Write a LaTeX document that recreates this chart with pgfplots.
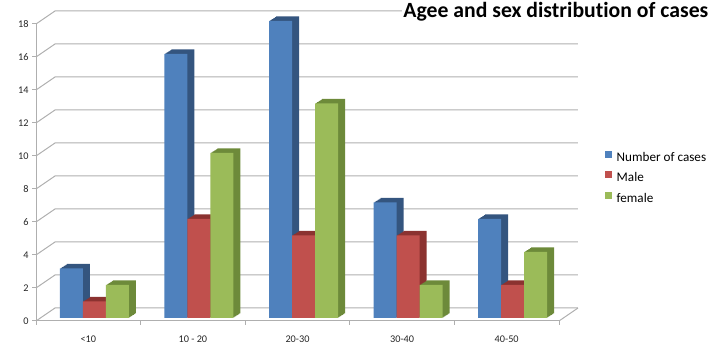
\documentclass[border=0pt]{standalone}
\usepackage{fontspec}
\setmainfont{Carlito}[Ligatures=NoCommon]
\usepackage{pgfplots}
\usepackage{pgfplotstable}
\pgfplotsset{compat=1.18}
\definecolor{cblue}{HTML}{4F81BD}
\definecolor{bdark}{HTML}{34557F}
\definecolor{cred}{HTML}{C0504D}
\definecolor{rdark}{HTML}{8B3230}
\definecolor{cgreen}{HTML}{9BBB59}
\definecolor{gdark}{HTML}{6D8A3A}
\definecolor{gridc}{RGB}{175,175,175}
\pgfplotstableread{
x cases male female
0 3 1 2
1 16 6 10
2 18 5 13
3 7 5 2
4 6 2 4
}\data
\begin{document}
\begin{tikzpicture}
\begin{axis}[
  x=104.6bp, y=16.5bp,
  xmin=-0.5, xmax=4.5, ymin=0, ymax=18,
  clip=false,
  axis x line*=bottom, axis y line*=left,
  axis line style={gridc, line width=1bp},
  xtick={0,...,4},
  xticklabels={{<10},{10 - 20},{20-30},{30-40},{40-50}},
  minor xtick={-0.5,0.5,...,4.5},
  ytick={0,2,...,18},
  tick align=outside,
  major tick length=4bp, minor tick length=4bp,
  tick style={gridc, line width=1bp},
  major x tick style={draw=none},
  /pgf/number format/assume math mode=true,
  ticklabel style={font=\fontsize{10.3}{12}\selectfont, text=black!85},
  xticklabel style={yshift=-7bp},
  legend style={at={(axis cs:4.94,8.68)}, anchor=west, draw=none, fill=none,
    font=\fontsize{13.2}{15}\selectfont, row sep=7.5bp, inner sep=0pt,
    nodes={inner sep=1bp},
    /tikz/every odd column/.append style={column sep=3.5bp}},
  legend cell align=left,
]
% back wall, side wall and floor
\pgfplotsinvokeforeach{0,2,...,18}{
  \draw[gridc, line width=1bp] (axis cs:-0.5,#1) -- (axis cs:-0.3184,#1+0.7879) -- (axis cs:4.6816,#1+0.7879);
}
\draw[gridc, line width=1bp] (axis cs:4.5,0) -- (axis cs:4.6816,0.7879);
% number of cases
\pgfplotsinvokeforeach{1,...,7}{
  \addplot[ybar, bar width=23bp, bar shift=-23bp, fill=bdark, draw=none, forget plot,
    xshift={6bp+#1bp}, yshift={3bp+0.643*#1bp}] table[x=x,y=cases]{\data};
}
\addplot[ybar, bar width=23bp, bar shift=-23bp, fill=cblue, draw=none,
  xshift=6bp, yshift=3bp,
  legend image code/.code={\fill[cblue] (0bp,-3.5bp) rectangle (7bp,3.5bp);}] table[x=x,y=cases]{\data};
\addlegendentry{Number of cases}
% male
\pgfplotsinvokeforeach{1,...,7}{
  \addplot[ybar, bar width=23bp, bar shift=0bp, fill=rdark, draw=none, forget plot,
    xshift={6bp+#1bp}, yshift={3bp+0.643*#1bp}] table[x=x,y=male]{\data};
}
\addplot[ybar, bar width=23bp, bar shift=0bp, fill=cred, draw=none,
  xshift=6bp, yshift=3bp,
  legend image code/.code={\fill[cred] (0bp,-3.5bp) rectangle (7bp,3.5bp);}] table[x=x,y=male]{\data};
\addlegendentry{Male}
% female
\pgfplotsinvokeforeach{1,...,7}{
  \addplot[ybar, bar width=23bp, bar shift=23bp, fill=gdark, draw=none, forget plot,
    xshift={6bp+#1bp}, yshift={3bp+0.643*#1bp}] table[x=x,y=female]{\data};
}
\addplot[ybar, bar width=23bp, bar shift=23bp, fill=cgreen, draw=none,
  xshift=6bp, yshift=3bp,
  legend image code/.code={\fill[cgreen] (0bp,-3.5bp) rectangle (7bp,3.5bp);}] table[x=x,y=female]{\data};
\addlegendentry{female}
% title
\node[anchor=base east, fill=white, inner sep=1.5bp, font=\fontsize{21.8}{23}\selectfont\bfseries]
  at (axis cs:5.9436,18.364) {Agee and sex distribution of cases};
% bounding box matching the reference frame
\path (axis cs:-0.8442,-1.5758) rectangle (axis cs:5.9914,19.4545);
\end{axis}
\end{tikzpicture}
\end{document}
